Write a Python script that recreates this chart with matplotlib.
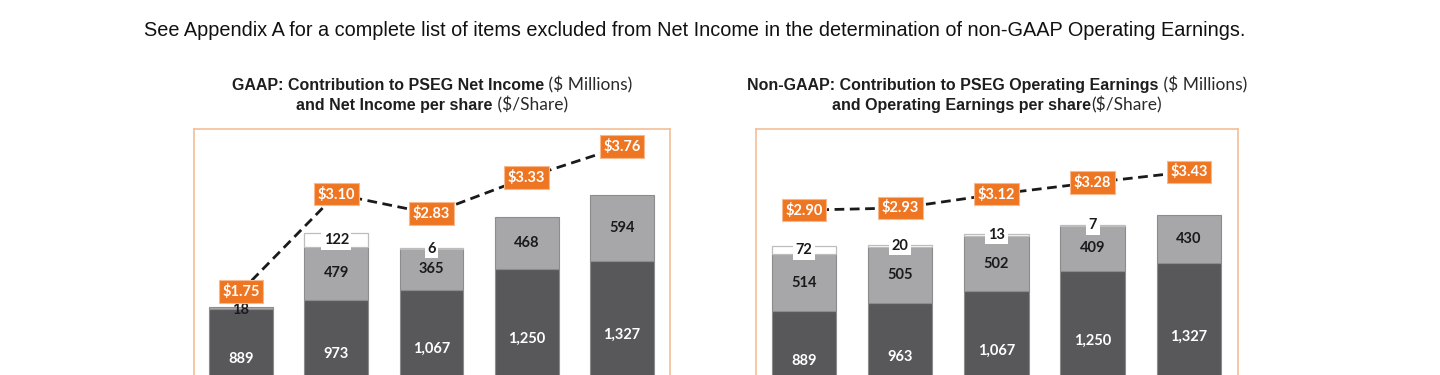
import matplotlib
matplotlib.use('Agg')
import matplotlib.pyplot as plt
import matplotlib.transforms as mtransforms

# ---------------- data ----------------
categories = ['Year 1', 'Year 2', 'Year 3', 'Year 4', 'Year 5']

gaap_base = [889, 973, 1067, 1250, 1327]
gaap_mid = [18, 479, 365, 468, 594]
gaap_top = [0, 122, 6, 0, 0]
gaap_eps = [1.75, 3.10, 2.83, 3.33, 3.76]

op_base = [889, 963, 1067, 1250, 1327]
op_mid = [514, 505, 502, 409, 430]
op_top = [72, 20, 13, 7, 0]
op_eps = [2.90, 2.93, 3.12, 3.28, 3.43]

header = ("See Appendix A for a complete list of items excluded from Net Income "
          "in the determination of non-GAAP Operating Earnings.")
left_title = [[("GAAP: Contribution to PSEG Net Income", 'b'), (" ($ Millions)", 'r')],
              [("and Net Income per share", 'b'), (" ($/Share)", 'r')]]
right_title = [[("Non-GAAP: Contribution to PSEG Operating Earnings", 'b'), (" ($ Millions)", 'r')],
               [("and Operating Earnings per share", 'b'), ("($/Share)", 'r')]]

# ---------------- style ----------------
W, H = 1440, 375
DARK = '#58585A'
LIGHT = '#A7A7A9'
EDGE = '#8C8C8E'
ORANGE = '#EE7623'
BORDER = '#F3BE96'
LABEL_FONT = 'Lato'
LFS = 10.5

fig = plt.figure(figsize=(W / 100, H / 100), dpi=100)
fig.patch.set_facecolor('white')
ident = mtransforms.IdentityTransform()


def px_axes(l, r, t, b):
    return fig.add_axes([l / W, 1 - b / H, (r - l) / W, (b - t) / H])


def draw_panel(box, xlim, ylim, ylim2, base, mid, top, eps):
    ax = px_axes(*box)
    x = list(range(len(categories)))
    w = 0.67
    ax.bar(x, base, width=w, color=DARK, edgecolor=EDGE, linewidth=0.8, zorder=2)
    ax.bar(x, mid, width=w, bottom=base, color=LIGHT, edgecolor=EDGE, linewidth=0.8, zorder=2)
    tops_bottom = [b + m for b, m in zip(base, mid)]
    for i, tv in enumerate(top):
        if tv > 0:
            ax.bar(x[i], tv, width=w, bottom=tops_bottom[i], color='white',
                   edgecolor='#BDBDBD', linewidth=0.9, zorder=2)
    for i in x:
        ax.text(x[i], base[i] / 2, f'{base[i]:,}', ha='center', va='center',
                color='white', fontsize=LFS, fontweight='bold', family=LABEL_FONT, zorder=5)
        if mid[i] > 40:
            ax.text(x[i], base[i] + mid[i] / 2, f'{mid[i]:,}', ha='center', va='center',
                    color='#1A1A1A', fontsize=LFS, fontweight='bold', family=LABEL_FONT, zorder=5)
        else:
            ax.text(x[i], base[i] + mid[i] / 2 - 15, f'{mid[i]:,}', ha='center', va='center',
                    color='#1A1A1A', fontsize=LFS, fontweight='bold', family=LABEL_FONT, zorder=5)
        if top[i] > 0:
            ax.text(x[i], tops_bottom[i] + top[i] / 2, f'{top[i]:,}', ha='center', va='center',
                    color='#1A1A1A', fontsize=LFS, fontweight='bold', family=LABEL_FONT, zorder=5,
                    bbox=dict(boxstyle='square,pad=0.18', fc='white', ec='none'))
    ax.set_xlim(*xlim)
    ax.set_ylim(*ylim)
    ax.set_xticks([])
    ax.set_yticks([])
    for s in ax.spines.values():
        s.set_color(BORDER)
        s.set_linewidth(1.2)

    ax2 = ax.twinx()
    ax2.plot(x, eps, color='#1A1A1A', linewidth=2, linestyle=(0, (3.5, 2)), zorder=3)
    for i in x:
        ax2.text(x[i], eps[i], f'${eps[i]:.2f}', ha='center', va='center', color='white',
                 fontsize=LFS, fontweight='bold', family=LABEL_FONT, zorder=6,
                 bbox=dict(boxstyle='square,pad=0.25', fc=ORANGE, ec='#F6B88C', lw=0.8))
    ax2.set_ylim(*ylim2)
    ax2.set_yticks([])
    for s in ax2.spines.values():
        s.set_visible(False)
    return ax


draw_panel((194, 670, 129, 450), (-0.493, 4.504), (-377, 2512), (-0.45, 4.004),
           gaap_base, gaap_mid, gaap_top, gaap_eps)
draw_panel((756, 1238, 129, 450), (-0.499, 4.51), (-358, 2527), (-0.405, 4.018),
           op_base, op_mid, op_top, op_eps)

renderer = fig.canvas.get_renderer()


def mixed_line(cx, baseline_top, parts):
    objs = []
    for s, kind in parts:
        if kind == 'b':
            t = fig.text(0, 0, s, transform=ident, fontsize=11.5, fontweight='bold',
                         family='Liberation Sans', color='#1E1E1E', va='baseline', ha='left')
        else:
            t = fig.text(0, 0, s, transform=ident, fontsize=12.5, family='Lato',
                         color='#2A2A2A', va='baseline', ha='left')
        objs.append(t)
    widths = [o.get_window_extent(renderer).width for o in objs]
    x0 = cx - sum(widths) / 2
    yb = H - baseline_top
    for o, wdt in zip(objs, widths):
        o.set_position((x0, yb))
        x0 += wdt


for cx, lines in ((432, left_title), (997, right_title)):
    mixed_line(cx, 90, lines[0])
    mixed_line(cx, 110, lines[1])

fig.text(695, H - 36, header, transform=ident, fontsize=14.3, family='Liberation Sans',
         color='#111111', ha='center', va='baseline')

fig.savefig('out.png', dpi=100, facecolor='white')
